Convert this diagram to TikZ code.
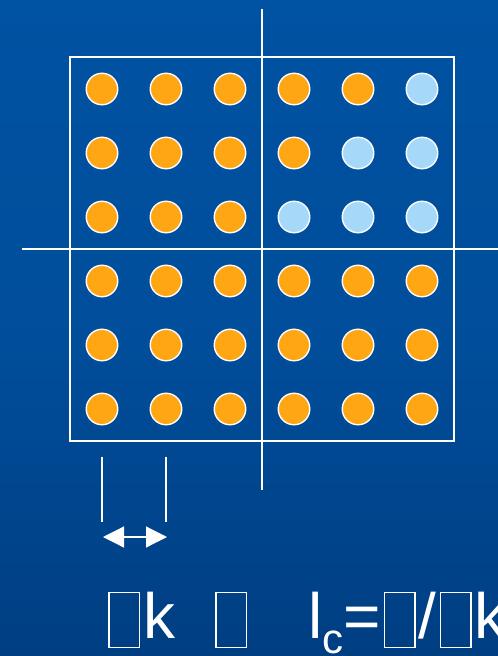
\documentclass[tikz,border=0pt]{standalone}
\usepackage{fontspec}
\setmainfont{Liberation Sans}
\usetikzlibrary{arrows.meta}
\definecolor{dotorange}{RGB}{255,166,20}
\definecolor{dotblue}{RGB}{166,216,250}
\definecolor{bgtop}{RGB}{0,82,162}
\definecolor{bgbot}{RGB}{0,62,130}
\newcommand\tofubox{\hspace{3pt}\hbox{\vrule width 1.4pt height 46pt depth 10pt\rlap{\raisebox{44.6pt}{\rule{29.2pt}{1.4pt}}}\rlap{\raisebox{-10pt}{\rule{29.2pt}{1.4pt}}}\hspace{29.2pt}\vrule width 1.4pt height 46pt depth 10pt}\hspace{3pt}}
\tikzset{
  dot/.style={circle, draw=white, line width=1.4pt, minimum size=31.5pt, inner sep=0pt},
  od/.style={dot, fill=dotorange},
  bd/.style={dot, fill=dotblue},
  wline/.style={draw=white, line width=1.2pt},
}
\begin{document}
\begin{tikzpicture}[x=1pt,y=-1pt]
\useasboundingbox (0,0) rectangle (498,656);
\shade[top color=bgtop, bottom color=bgbot, middle color=bgtop!80!bgbot] (0,0) rectangle (498,656);
% frame and axes
\draw[wline] (70,57) rectangle (454,441);
\coordinate (vt) at (262,9);
\coordinate (vb) at (262,490);
\coordinate (hl) at (22,249);
\coordinate (hr) at (498,249);
\draw[wline] (vt) -- (vb);
\draw[wline] (hl) -- (hr);
% dots
\foreach \r/\cols in {1/{o,o,o,o,o,b},2/{o,o,o,o,b,b},3/{o,o,o,b,b,b},4/{o,o,o,o,o,o},5/{o,o,o,o,o,o},6/{o,o,o,o,o,o}}{
  \foreach \c [count=\i] in \cols {
    \node[\c d] (d\r\i) at ({102+64*(\i-1)},{89+64*(\r-1)}) {};
  }
}
% dimension lines
\coordinate (m1t) at (102,457);
\coordinate (m1b) at (102,522);
\coordinate (m2t) at (166,457);
\coordinate (m2b) at (166,522);
\draw[wline] (m1t) -- (m1b);
\draw[wline] (m2t) -- (m2b);
\coordinate (al) at (103,537);
\coordinate (ar) at (167,537);
\draw[draw=white, line width=1.2pt, {Triangle[length=21pt,width=21pt]}-{Triangle[length=21pt,width=21pt]}] (al) -- (ar);
% formula
\node[anchor=base west, inner sep=0pt, text=white, font=\fontsize{64}{64}\selectfont] (formula) at (105,638)
 {\tofubox k\hspace{37pt}\tofubox\hspace{58pt}l\raisebox{-15pt}{\fontsize{42}{42}\selectfont c}=\tofubox/\tofubox k};
\end{tikzpicture}
\end{document}
